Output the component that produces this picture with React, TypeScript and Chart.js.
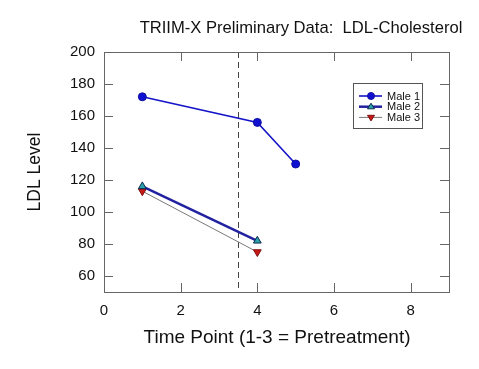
import React, { useEffect, useRef } from "react";
import { Chart, registerables } from "chart.js";

Chart.register(...registerables);

const TITLE = "TRIIM-X Preliminary Data:  LDL-Cholesterol";
const X_TITLE = "Time Point (1-3 = Pretreatment)";
const Y_TITLE = "LDL Level";

const male1Time = [1, 4, 5];
const male1Values = [172, 156, 130];
const male23Time = [1, 4];
const male2Values = [116, 82];
const male3Values = [113, 75];
const seriesNames = ["Male 1", "Male 2", "Male 3"];

const xTicks = [0, 2, 4, 6, 8];
const yTicks = [60, 80, 100, 120, 140, 160, 180, 200];
const pretreatmentBoundary = 3.5;

const FONT = "Arial, 'Liberation Sans', Helvetica, sans-serif";

const framePlugin = {
  id: "framePlugin",
  beforeDatasetsDraw(chart: any) {
    const { ctx, chartArea: a, scales } = chart;
    const x = scales.x;
    ctx.save();
    const px = Math.round(x.getPixelForValue(pretreatmentBoundary)) + 0.5;
    ctx.strokeStyle = "#444";
    ctx.lineWidth = 1;
    ctx.setLineDash([6, 4]);
    ctx.beginPath();
    ctx.moveTo(px, a.top);
    ctx.lineTo(px, a.bottom);
    ctx.stroke();
    ctx.restore();
  },
  afterDatasetsDraw(chart: any) {
    const { ctx, chartArea: a, scales } = chart;
    const x = scales.x;
    const y = scales.y;
    ctx.save();
    ctx.strokeStyle = "#666";
    ctx.lineWidth = 1;
    ctx.strokeRect(Math.round(a.left) + 0.5, Math.round(a.top) + 0.5, Math.round(a.right - a.left), Math.round(a.bottom - a.top));
    const tl = 9;
    ctx.beginPath();
    xTicks.forEach((v) => {
      const p = Math.round(x.getPixelForValue(v)) + 0.5;
      if (p <= a.left + 1 || p >= a.right - 1) return;
      ctx.moveTo(p, a.bottom);
      ctx.lineTo(p, a.bottom - tl);
      ctx.moveTo(p, a.top);
      ctx.lineTo(p, a.top + tl);
    });
    yTicks.forEach((v) => {
      const p = Math.round(y.getPixelForValue(v)) + 0.5;
      if (p <= a.top + 1 || p >= a.bottom - 1) return;
      ctx.moveTo(a.left, p);
      ctx.lineTo(a.left + tl, p);
      ctx.moveTo(a.right, p);
      ctx.lineTo(a.right - tl, p);
    });
    ctx.stroke();

    ctx.fillStyle = "#111";
    ctx.textAlign = "center";
    ctx.textBaseline = "alphabetic";
    ctx.font = `16.6px ${FONT}`;
    ctx.fillText(TITLE, 301, 33);
    ctx.font = `19px ${FONT}`;
    ctx.fillText(X_TITLE, 277, 343);
    ctx.save();
    ctx.translate(40, 172);
    ctx.rotate(-Math.PI / 2);
    ctx.font = `17.5px ${FONT}`;
    ctx.fillText(Y_TITLE, 0, 0);
    ctx.restore();

    // legend
    const bx = 353, by = 83, bw = 69, bh = 45;
    ctx.fillStyle = "#fff";
    ctx.fillRect(bx, by, bw, bh);
    ctx.strokeStyle = "#555";
    ctx.lineWidth = 1;
    ctx.strokeRect(bx + 0.5, by + 0.5, bw, bh);
    chart.data.datasets.forEach((ds: any, i: number) => {
      const ry = 96 + i * 10.7;
      ctx.strokeStyle = ds.borderColor;
      ctx.lineWidth = ds.borderWidth;
      ctx.beginPath();
      ctx.moveTo(359, ry);
      ctx.lineTo(382, ry);
      ctx.stroke();
      ctx.fillStyle = ds.pointBackgroundColor;
      ctx.strokeStyle = ds.pointBorderColor;
      ctx.lineWidth = 1;
      const r = 3.5;
      ctx.beginPath();
      if (ds.pointStyle === "circle") {
        ctx.arc(371, ry, r, 0, Math.PI * 2);
      } else if (ds.pointRotation === 180) {
        ctx.moveTo(371 - r, ry - r * 0.6);
        ctx.lineTo(371 + r, ry - r * 0.6);
        ctx.lineTo(371, ry + r);
        ctx.closePath();
      } else {
        ctx.moveTo(371 - r, ry + r * 0.6);
        ctx.lineTo(371 + r, ry + r * 0.6);
        ctx.lineTo(371, ry - r);
        ctx.closePath();
      }
      ctx.fill();
      ctx.stroke();
      ctx.fillStyle = "#111";
      ctx.font = `11px ${FONT}`;
      ctx.textAlign = "left";
      ctx.textBaseline = "middle";
      ctx.fillText(seriesNames[i], 387, ry + 0.5);
    });
    ctx.restore();
  },
};

export default function App() {
  const ref = useRef<HTMLCanvasElement>(null);
  useEffect(() => {
    document.body.style.margin = "0";
    const toXY = (xs: number[], ys: number[]) => xs.map((v, i) => ({ x: v, y: ys[i] }));
    const chart = new Chart(ref.current!, {
      type: "scatter",
      data: {
        datasets: [
          {
            label: seriesNames[0],
            data: toXY(male1Time, male1Values),
            showLine: true,
            borderColor: "#1414c8",
            borderWidth: 1.6,
            pointStyle: "circle",
            pointRadius: 4,
            pointBackgroundColor: "#1010d0",
            pointBorderColor: "#1010a0",
            pointBorderWidth: 1,
          },
          {
            label: seriesNames[1],
            data: toXY(male23Time, male2Values),
            showLine: true,
            borderColor: "#2222a0",
            borderWidth: 2.5,
            pointStyle: "triangle",
            pointRadius: 4.5,
            pointBackgroundColor: "#2aa0a8",
            pointBorderColor: "#0a2a50",
            pointBorderWidth: 1,
          },
          {
            label: seriesNames[2],
            data: toXY(male23Time, male3Values),
            showLine: true,
            borderColor: "#787878",
            borderWidth: 1,
            pointStyle: "triangle",
            pointRotation: 180,
            pointRadius: 4.5,
            pointBackgroundColor: "#c81818",
            pointBorderColor: "#801010",
            pointBorderWidth: 1,
          },
        ],
      } as any,
      options: {
        animation: false,
        responsive: false,
        events: [],
        layout: { padding: { top: 52, right: 30, left: 0, bottom: 0 } },
        plugins: { legend: { display: false }, title: { display: false }, tooltip: { enabled: false } },
        scales: {
          x: {
            type: "linear",
            min: 0,
            max: 9,
            afterBuildTicks: (s: any) => {
              s.ticks = xTicks.map((v) => ({ value: v }));
            },
            afterFit: (s: any) => {
              s.height = 77;
            },
            grid: { display: false, drawTicks: false },
            border: { display: false },
            ticks: { padding: 10, color: "#111", font: { family: FONT, size: 15 } },
          },
          y: {
            type: "linear",
            min: 50,
            max: 200,
            afterBuildTicks: (s: any) => {
              s.ticks = yTicks.map((v) => ({ value: v }));
            },
            afterFit: (s: any) => {
              s.width = 104;
            },
            grid: { display: false, drawTicks: false },
            border: { display: false },
            ticks: { padding: 9, color: "#111", font: { family: FONT, size: 15 } },
          },
        },
      },
      plugins: [framePlugin],
    } as any);
    return () => chart.destroy();
  }, []);
  return <canvas ref={ref} width={479} height={369} style={{ display: "block" }} />;
}
